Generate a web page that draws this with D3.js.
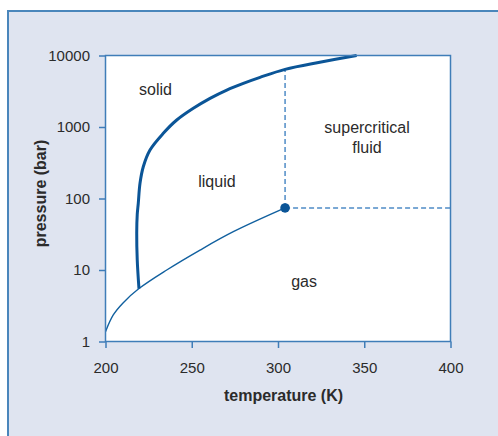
<!DOCTYPE html>
<html>
<head>
<meta charset="utf-8">
<script src="https://cdn.jsdelivr.net/npm/d3@7"></script>
<style>
  body { margin: 0; background: #fff; }
  text { font-family: "Liberation Sans", Arial, sans-serif; fill: #2b2b2b; }
</style>
</head>
<body>
<div id="chart"></div>
<script>
// phase diagram values
var xTicks = [200, 250, 300, 350, 400];
var yTicks = [1, 10, 100, 1000, 10000];

// sublimation + vaporisation line (thin)
var vapourT = [200, 204.5, 210.3, 219.4, 235.5, 254.8, 274.1, 304.1];
var vapourP = [1.37, 2.35, 3.49, 5.5, 10.0, 19.0, 34.3, 73.8];

// melting line (thick)
var meltT = [219.4, 218.4, 218.1, 218.4, 219.0, 220.0, 221.9, 225.8, 233.5, 241.3, 250.9, 260.6, 270.3, 279.9, 289.6, 304.1, 325, 345.6];
var meltP = [5.5, 13.8, 32.6, 60, 85.7, 163, 278, 477, 816, 1253, 1828, 2518, 3290, 4083, 4955, 6400, 8100, 10000];

var critical = {t: 304.1, p: 73.8};
var critMeltP = 6400;

var regionNames = ["solid", "liquid", "supercritical", "fluid", "gas"];
var regionT = [229, 264.6, 351.6, 351.6, 315.1];
var regionP = [2800, 145, 824, 433, 5.8];

var margin = {top: 55.5, left: 105.5},
    width = 345,
    height = 286;

var svg = d3.select("#chart")
  .append("svg")
    .attr("width", 498)
    .attr("height", 436);

// panel behind the chart
svg.append("rect")
    .attr("x", 8).attr("y", 11)
    .attr("width", 520).attr("height", 460)
    .attr("fill", "#dfe4f0")
    .attr("stroke", "#4a86bb")
    .attr("stroke-width", 2);

var g = svg.append("g")
    .attr("transform", "translate(" + margin.left + "," + margin.top + ")");

var x = d3.scaleLinear().domain([200, 400]).range([0, width]);
var y = d3.scaleLog().domain([1, 10000]).range([height, 0]);

g.append("rect")
    .attr("width", width).attr("height", height)
    .attr("fill", "#fff");

// axes
var xAxis = g.append("g")
    .attr("transform", "translate(0," + height + ")")
    .call(d3.axisBottom(x).tickValues(xTicks).tickSize(6.5).tickPadding(14));
var yAxis = g.append("g")
    .call(d3.axisLeft(y).tickValues(yTicks).tickFormat(d3.format("d")).tickSize(6.5).tickPadding(9));

[xAxis, yAxis].forEach(function(a) {
  a.select(".domain").remove();
  a.selectAll(".tick line").attr("stroke", "#3f7db8").attr("stroke-width", 1.5);
  a.selectAll(".tick text")
    .style("font-size", "15px")
    .style("font-family", "'Liberation Sans', Arial, sans-serif")
    .attr("fill", "#2b2b2b");
});

// dashed boundaries of the supercritical region
var dashColor = "#4f8cc6";
g.append("line")
    .attr("x1", x(critical.t)).attr("x2", x(critical.t))
    .attr("y1", y(critical.p)).attr("y2", y(critMeltP))
    .attr("stroke", dashColor).attr("stroke-width", 1.5)
    .attr("stroke-dasharray", "5,3");
g.append("line")
    .attr("x1", x(critical.t)).attr("x2", width)
    .attr("y1", y(critical.p)).attr("y2", y(critical.p))
    .attr("stroke", dashColor).attr("stroke-width", 1.5)
    .attr("stroke-dasharray", "5,3");

var line = d3.line()
    .curve(d3.curveCatmullRom)
    .x(function(d) { return x(d[0]); })
    .y(function(d) { return y(d[1]); });

g.append("path")
    .datum(d3.zip(vapourT, vapourP))
    .attr("fill", "none")
    .attr("stroke", "#11609f")
    .attr("stroke-width", 1.4)
    .attr("d", line);

g.append("path")
    .datum(d3.zip(meltT, meltP))
    .attr("fill", "none")
    .attr("stroke", "#0b5597")
    .attr("stroke-width", 3)
    .attr("stroke-linejoin", "round")
    .attr("d", line);

g.append("circle")
    .attr("cx", x(critical.t)).attr("cy", y(critical.p))
    .attr("r", 4.8)
    .attr("fill", "#0b5597");

// frame
g.append("rect")
    .attr("width", width).attr("height", height)
    .attr("fill", "none")
    .attr("stroke", "#3f7db8")
    .attr("stroke-width", 1.5);

// region labels
g.selectAll(".region")
  .data(regionNames)
  .enter()
  .append("text")
    .attr("class", "region")
    .attr("x", function(d, i) { return x(regionT[i]); })
    .attr("y", function(d, i) { return y(regionP[i]); })
    .attr("text-anchor", "middle")
    .style("font-size", "16px")
    .text(function(d) { return d; });

// axis titles
svg.append("text")
    .attr("x", 283.5).attr("y", 401)
    .attr("text-anchor", "middle")
    .style("font-size", "16px")
    .style("font-weight", "bold")
    .text("temperature (K)");

svg.append("text")
    .attr("transform", "translate(46,193.5) rotate(-90)")
    .attr("text-anchor", "middle")
    .style("font-size", "16px")
    .style("font-weight", "bold")
    .text("pressure (bar)");
</script>
</body>
</html>
